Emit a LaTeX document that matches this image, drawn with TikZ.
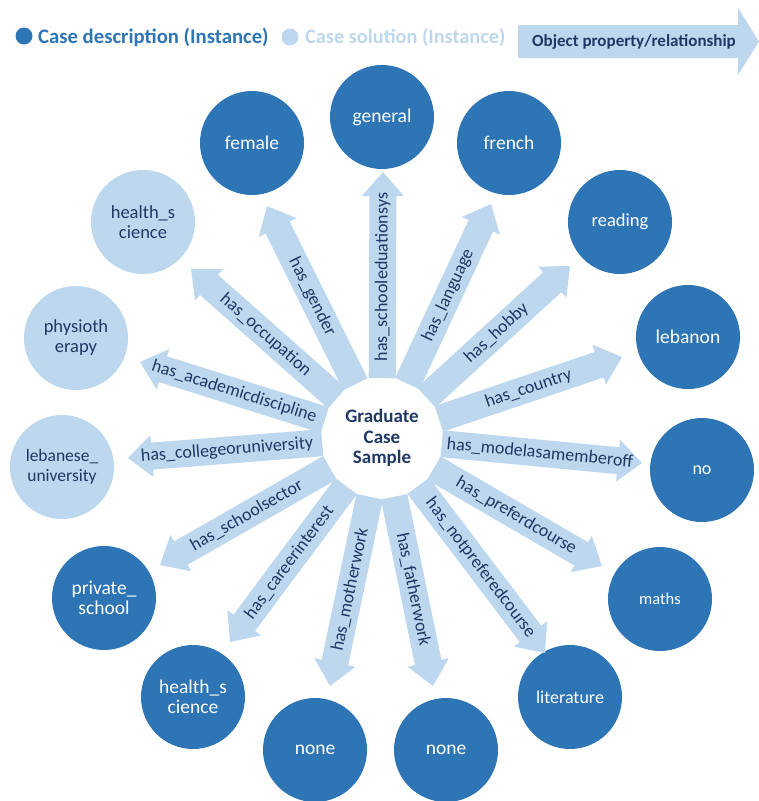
\documentclass[tikz,border=0pt]{standalone}
\usepackage{fontspec}
\setmainfont{Carlito}
\usetikzlibrary{calc}
\definecolor{dkblue}{HTML}{2E75B6}
\definecolor{ltblue}{HTML}{BDD7EE}
\definecolor{navy}{HTML}{1F3864}
\newcommand\blockarrow[2]{%
  \coordinate (#1s) at ($(ctr.center)!60pt!(#1)$);
  \coordinate (#1b) at ($(#1)!24pt!(ctr.center)$);
  \fill[arrowfill] ($(#1s)!13.5pt!90:(#1)$) -- ($(#1b)!13.5pt!90:(#1)$) -- ($(#1b)!21pt!90:(#1)$) -- (#1) -- ($(#1b)!21pt!-90:(#1)$) -- ($(#1b)!13.5pt!-90:(#1)$) -- ($(#1s)!13.5pt!-90:(#1)$) -- cycle;
  \path ($(ctr.center)!70pt!(#1)$) -- ($(#1)!14pt!(ctr.center)$) node[midway, sloped, lbl] {#2};
}
\tikzset{
  arrowfill/.style={fill=ltblue},
  lbl/.style={text=navy, inner sep=0pt, font=\fontsize{18}{20}\selectfont},
  dk/.style={circle, fill=dkblue, text=white, minimum size=104pt, inner sep=0pt, align=center, font=\fontsize{19.5}{20}\selectfont},
  lt/.style={circle, fill=ltblue, text=navy, minimum size=104pt, inner sep=0pt, align=center, font=\fontsize{18.5}{20}\selectfont},
}
\begin{document}
\begin{tikzpicture}[x=1pt, y=-1pt]
\useasboundingbox (0,0) rectangle (759,801);
% legend
\fill[dkblue] (24,36) circle[radius=8.5];
\node[anchor=west, text=dkblue, inner sep=0pt, font=\fontsize{20.7}{22}\selectfont\bfseries] (legdk) at (38,37) {Case description (Instance)};
\fill[ltblue] (290,37) circle[radius=8.5];
\node[anchor=west, text=ltblue, inner sep=0pt, font=\fontsize{20.3}{22}\selectfont\bfseries] (leglt) at (305,37) {Case solution (Instance)};
\fill[ltblue] (518,25) -- (738,25) -- (738,8) -- (759,41.5) -- (738,75) -- (738,58) -- (518,58) -- cycle;
\node[text=navy, inner sep=0pt, font=\fontsize{17}{20}\selectfont\bfseries] (legarrow) at (634,42) {Object property/relationship};
% centre
\node[text=navy, align=center, inner sep=0pt, font=\fontsize{19}{20.5}\selectfont\bfseries] (ctr) at (382,438) {Graduate\\Case\\Sample};
% outer circles
\node[dk] (general) at (382,117) {general};
\node[dk] (female) at (252,143) {female};
\node[dk] (french) at (509,143) {french};
\node[dk, font=\fontsize{18.5}{20}\selectfont] (reading) at (620,222) {reading};
\node[dk] (lebanon) at (688,337) {lebanon};
\node[dk, font=\fontsize{18}{20}\selectfont] (no) at (702,470) {no};
\node[dk, font=\fontsize{16.5}{20}\selectfont] (maths) at (660,599) {maths};
\node[dk, font=\fontsize{18}{20}\selectfont] (literature) at (570,697) {literature};
\node[dk] (noneR) at (446,750) {none};
\node[dk] (noneL) at (315,750) {none};
\node[dk] (healthD) at (193,697) {health\_s\\cience};
\node[dk] (private) at (104,598) {private\_\\school};
\node[lt, font=\fontsize{17.5}{20}\selectfont] (lebuni) at (62,467) {lebanese\_\\university};
\node[lt] (physio) at (76,338) {physioth\\erapy};
\node[lt] (healthL) at (143,222) {health\_s\\cience};
% arrow tips
\coordinate (ta) at (383,172);
\coordinate (tb) at (491,204);
\coordinate (tc) at (570,266);
\coordinate (td) at (622,357);
\coordinate (te) at (642,463);
\coordinate (tf) at (602,566);
\coordinate (tg) at (545,653);
\coordinate (th) at (433,686);
\coordinate (ti) at (330,686);
\coordinate (tj) at (230,642);
\coordinate (tk) at (160,565);
\coordinate (tl) at (128,458);
\coordinate (tm) at (140,362);
\coordinate (tn) at (191,269);
\coordinate (to) at (267,206);
\blockarrow{ta}{has\_schooleduationsys}
\blockarrow{tb}{has\_language}
\blockarrow{tc}{has\_hobby}
\blockarrow{td}{has\_country}
\blockarrow{te}{has\_modelasamemberoff}
\blockarrow{tf}{has\_preferdcourse}
\blockarrow{tg}{has\_notpreferedcourse}
\blockarrow{th}{has\_fatherwork}
\blockarrow{ti}{has\_motherwork}
\blockarrow{tj}{has\_careerinterest}
\blockarrow{tk}{has\_schoolsector}
\blockarrow{tl}{has\_collegeoruniversity}
\blockarrow{tm}{has\_academicdiscipline}
\blockarrow{tn}{has\_occupation}
\blockarrow{to}{has\_gender}
\end{tikzpicture}
\end{document}
